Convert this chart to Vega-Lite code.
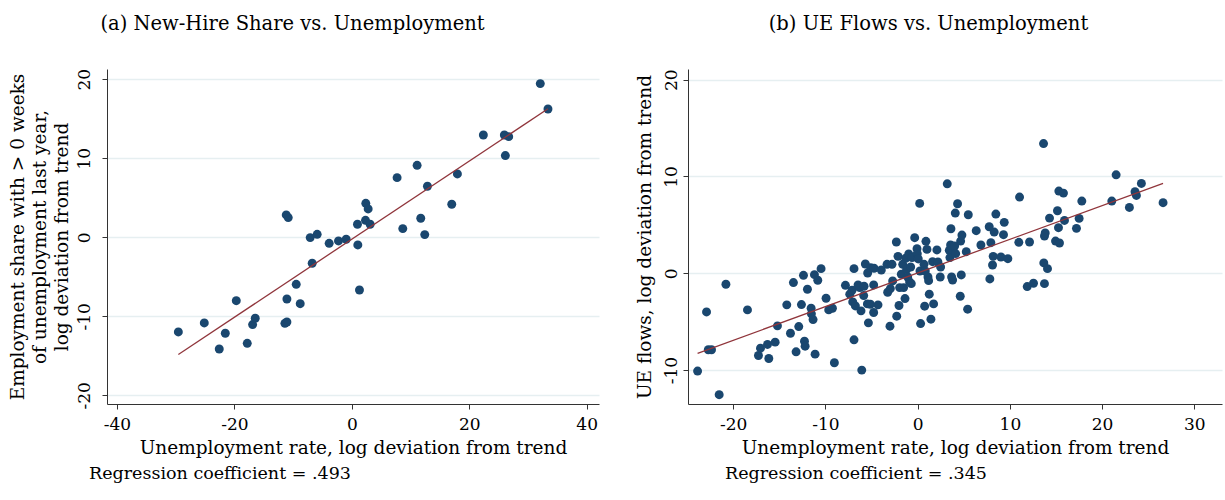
{
  "$schema": "https://vega.github.io/schema/vega-lite/v6.json",
  "background": "white",
  "padding": {"left": 7, "top": 13, "right": 3, "bottom": 5},
  "spacing": 36,
  "config": {
    "view": {"stroke": null},
    "font": "DejaVu Serif",
    "axis": {
      "labelFont": "DejaVu Serif", "titleFont": "DejaVu Serif",
      "labelFontSize": 17, "titleFontSize": 18.5, "titleFontWeight": "normal",
      "labelColor": "#000", "titleColor": "#000",
      "domainColor": "#333", "tickColor": "#333", "tickSize": 5,
      "gridColor": "#e6eff1", "gridWidth": 1.3,
      "labelExpr": "replace(datum.label, '−', '-')"
    },
    "title": {"font": "DejaVu Serif", "fontSize": 19.5, "fontWeight": "normal", "color": "#000"}
  },
  "datasets": {
    "a": [
      {"x": -29.55, "y": -11.98}, {"x": -25.13, "y": -10.84}, {"x": -22.58, "y": -14.14}, {"x": -21.55, "y": -12.15},
      {"x": -19.68, "y": -8.02}, {"x": -17.81, "y": -13.42}, {"x": -16.9, "y": -11.05}, {"x": -16.45, "y": -10.25},
      {"x": -11.4, "y": -10.89}, {"x": -11.06, "y": -10.72}, {"x": -11.06, "y": -7.81}, {"x": -8.79, "y": -8.4},
      {"x": -9.47, "y": -5.95}, {"x": -11.17, "y": 2.83}, {"x": -10.83, "y": 2.49}, {"x": -7.09, "y": -0.04},
      {"x": -5.9, "y": 0.38}, {"x": -6.75, "y": -3.29}, {"x": -3.86, "y": -0.76}, {"x": -2.27, "y": -0.46},
      {"x": -0.96, "y": -0.25}, {"x": 1.02, "y": -0.97}, {"x": 1.3, "y": -6.67}, {"x": 0.96, "y": 1.65},
      {"x": 2.33, "y": 2.15}, {"x": 2.38, "y": 4.3}, {"x": 2.78, "y": 3.59}, {"x": 3.12, "y": 1.65},
      {"x": 7.71, "y": 7.55}, {"x": 8.68, "y": 1.1}, {"x": 11.12, "y": 9.11}, {"x": 11.74, "y": 2.41},
      {"x": 12.88, "y": 6.46}, {"x": 12.42, "y": 0.34}, {"x": 17.02, "y": 4.18}, {"x": 17.98, "y": 8.02},
      {"x": 22.4, "y": 12.95}, {"x": 25.98, "y": 12.95}, {"x": 26.72, "y": 12.74}, {"x": 26.15, "y": 10.34},
      {"x": 32.1, "y": 19.45}, {"x": 33.41, "y": 16.24}
    ],
    "b": [
      {"x": -23.86, "y": -10.1}, {"x": -22.89, "y": -3.99}, {"x": -22.7, "y": -7.9}, {"x": -22.35, "y": -7.9},
      {"x": -21.52, "y": -12.54}, {"x": -20.79, "y": -1.13}, {"x": -18.45, "y": -3.78}, {"x": -17.26, "y": -8.49},
      {"x": -17.04, "y": -7.73}, {"x": -16.28, "y": -7.35}, {"x": -16.14, "y": -8.8}, {"x": -15.45, "y": -7.11},
      {"x": -15.2, "y": -5.43}, {"x": -14.19, "y": -3.26}, {"x": -13.79, "y": -6.19}, {"x": -13.47, "y": -0.96},
      {"x": -13.18, "y": -8.11}, {"x": -12.89, "y": -5.5}, {"x": -12.6, "y": -3.23}, {"x": -12.38, "y": -0.21},
      {"x": -12.27, "y": -7.01}, {"x": -12.2, "y": -7.53}, {"x": -11.95, "y": -1.65}, {"x": -11.55, "y": -3.61},
      {"x": -11.52, "y": -4.19}, {"x": -11.34, "y": -4.78}, {"x": -11.19, "y": -0.14}, {"x": -11.12, "y": -8.35},
      {"x": -10.83, "y": -0.72}, {"x": -10.47, "y": 0.48}, {"x": -9.93, "y": -2.58}, {"x": -9.64, "y": -3.78},
      {"x": -9.24, "y": -3.61}, {"x": -9.03, "y": -9.24}, {"x": -7.83, "y": -1.24}, {"x": -7.36, "y": -2.16},
      {"x": -7.11, "y": -1.75}, {"x": -7.04, "y": -2.96}, {"x": -6.9, "y": 0.48}, {"x": -6.9, "y": -6.87},
      {"x": -6.75, "y": -3.37}, {"x": -6.46, "y": -1.2}, {"x": -6.28, "y": -1.48}, {"x": -6.14, "y": -3.88},
      {"x": -6.06, "y": -10.0}, {"x": -5.85, "y": -2.3}, {"x": -5.81, "y": -1.34}, {"x": -5.67, "y": 0.96},
      {"x": -5.45, "y": -3.16}, {"x": -5.42, "y": 0.03}, {"x": -5.34, "y": -5.12}, {"x": -5.13, "y": -3.2},
      {"x": -5.09, "y": 0.58}, {"x": -4.77, "y": -1.2}, {"x": -4.77, "y": -4.05}, {"x": -4.73, "y": 0.52},
      {"x": -4.3, "y": -3.26}, {"x": -3.94, "y": 0.34}, {"x": -3.32, "y": 0.93}, {"x": -3.25, "y": -1.96},
      {"x": -3.0, "y": -5.46}, {"x": -2.96, "y": -1.58}, {"x": -2.78, "y": 0.93}, {"x": -2.71, "y": -0.79},
      {"x": -2.31, "y": 3.23}, {"x": -2.27, "y": -4.43}, {"x": -2.13, "y": 1.75}, {"x": -2.02, "y": -3.33},
      {"x": -1.95, "y": -1.48}, {"x": -1.77, "y": -0.1}, {"x": -1.62, "y": 0.93}, {"x": -1.52, "y": -1.48},
      {"x": -1.37, "y": -2.61}, {"x": -1.3, "y": 1.55}, {"x": -1.19, "y": 0.41}, {"x": -1.08, "y": -0.38},
      {"x": -0.97, "y": 1.99}, {"x": -0.87, "y": -0.89}, {"x": -0.76, "y": 0.65}, {"x": -0.69, "y": -1.07},
      {"x": -0.61, "y": 1.62}, {"x": -0.32, "y": 3.68}, {"x": -0.07, "y": 2.54}, {"x": -0.04, "y": 2.03},
      {"x": 0.07, "y": 1.48}, {"x": 0.22, "y": 7.22}, {"x": 0.25, "y": 0.24}, {"x": 0.32, "y": -5.19},
      {"x": 0.69, "y": 0.93}, {"x": 0.76, "y": -3.4}, {"x": 0.83, "y": 0.24}, {"x": 0.9, "y": 3.3},
      {"x": 1.01, "y": 2.47}, {"x": 1.12, "y": -0.38}, {"x": 1.19, "y": -0.76}, {"x": 1.26, "y": -2.16},
      {"x": 1.44, "y": -4.74}, {"x": 1.62, "y": 1.2}, {"x": 1.73, "y": -3.16}, {"x": 2.09, "y": 2.41},
      {"x": 2.2, "y": 1.17}, {"x": 2.45, "y": -0.38}, {"x": 2.49, "y": 0.65}, {"x": 3.21, "y": 9.24},
      {"x": 3.43, "y": 2.37}, {"x": 3.5, "y": 1.62}, {"x": 3.57, "y": 2.92}, {"x": 3.61, "y": 4.6},
      {"x": 3.68, "y": -0.38}, {"x": 3.79, "y": -0.69}, {"x": 4.01, "y": 2.82}, {"x": 4.08, "y": 6.22},
      {"x": 4.12, "y": 2.03}, {"x": 4.33, "y": 7.18}, {"x": 4.62, "y": -2.37}, {"x": 4.66, "y": 3.33},
      {"x": 4.73, "y": -0.17}, {"x": 4.8, "y": 3.95}, {"x": 5.27, "y": 2.23}, {"x": 5.42, "y": -3.71},
      {"x": 5.49, "y": 6.05}, {"x": 6.35, "y": 4.4}, {"x": 6.86, "y": 2.92}, {"x": 7.76, "y": 4.81},
      {"x": 7.83, "y": -0.58}, {"x": 7.94, "y": 3.16}, {"x": 8.12, "y": 0.86}, {"x": 8.19, "y": 1.75},
      {"x": 8.3, "y": 4.26}, {"x": 8.48, "y": 6.12}, {"x": 9.03, "y": 1.68}, {"x": 9.31, "y": 3.99},
      {"x": 9.39, "y": 5.26}, {"x": 9.78, "y": 1.51}, {"x": 10.97, "y": 3.2}, {"x": 11.05, "y": 7.87},
      {"x": 11.88, "y": -1.37}, {"x": 12.13, "y": 3.23}, {"x": 12.56, "y": -1.03}, {"x": 13.65, "y": 13.4},
      {"x": 13.68, "y": 1.07}, {"x": 13.75, "y": 3.85}, {"x": 13.75, "y": -1.07}, {"x": 13.83, "y": 4.16},
      {"x": 14.08, "y": 0.48}, {"x": 14.3, "y": 5.7}, {"x": 14.95, "y": 3.33}, {"x": 15.16, "y": 6.46},
      {"x": 15.27, "y": 4.71}, {"x": 15.31, "y": 8.49}, {"x": 15.38, "y": 3.13}, {"x": 15.81, "y": 8.28},
      {"x": 15.92, "y": 5.46}, {"x": 17.22, "y": 4.64}, {"x": 17.51, "y": 5.67}, {"x": 17.8, "y": 7.46},
      {"x": 21.05, "y": 7.46}, {"x": 21.52, "y": 10.17}, {"x": 22.96, "y": 6.8}, {"x": 23.57, "y": 8.42},
      {"x": 23.72, "y": 8.04}, {"x": 24.26, "y": 9.28}, {"x": 26.61, "y": 7.29}
    ]
  },
  "hconcat": [
    {
      "title": {"text": "Regression coefficient = .493", "orient": "bottom", "anchor": "start", "frame": "group", "fontSize": 17.5, "dx": -18, "offset": 8},
      "vconcat": [
        {
          "width": 492,
          "height": 335,
          "title": {"text": "(a) New-Hire Share vs. Unemployment", "anchor": "middle", "frame": "bounds", "dx": -11, "offset": 34},
          "data": {"name": "a"},
          "encoding": {
            "x": {"field": "x", "type": "quantitative", "scale": {"domain": [-41.7, 42.1], "nice": false, "zero": false},
                  "axis": {"values": [-40, -20, 0, 20, 40], "grid": false, "title": "Unemployment rate, log deviation from trend", "labelPadding": 7, "titlePadding": 6}},
            "y": {"field": "y", "type": "quantitative", "scale": {"domain": [-21.1, 21.3], "nice": false, "zero": false},
                  "axis": {"values": [-20, -10, 0, 10, 20], "grid": true, "labelAngle": -90, "labelAlign": "center", "labelBaseline": "bottom", "labelPadding": 9,
                           "title": ["Employment share with > 0 weeks", "of unemployment last year,", "log deviation from trend"], "titleLineHeight": 22, "titlePadding": 4}}
          },
          "layer": [
            {"mark": {"type": "point", "filled": true, "size": 80, "color": "#1a476f", "opacity": 1}},
            {"transform": [{"regression": "y", "on": "x"}], "mark": {"type": "line", "color": "#90353b", "strokeWidth": 1.3}}
          ]
        }
      ]
    },
    {
      "title": {"text": "Regression coefficient = .345", "orient": "bottom", "anchor": "start", "frame": "group", "fontSize": 17.5, "dx": 37, "offset": 8},
      "vconcat": [
        {
          "width": 534,
          "height": 335,
          "title": {"text": "(b) UE Flows vs. Unemployment", "anchor": "middle", "frame": "bounds", "offset": 34},
          "data": {"name": "b"},
          "encoding": {
            "x": {"field": "x", "type": "quantitative", "scale": {"domain": [-24.9, 33.0], "nice": false, "zero": false},
                  "axis": {"values": [-20, -10, 0, 10, 20, 30], "grid": false, "title": "Unemployment rate, log deviation from trend", "labelPadding": 7, "titlePadding": 6}},
            "y": {"field": "y", "type": "quantitative", "scale": {"domain": [-13.5, 21.1], "nice": false, "zero": false},
                  "axis": {"values": [-10, 0, 10, 20], "grid": true, "labelAngle": -90, "labelAlign": "center", "labelBaseline": "bottom", "labelPadding": 3,
                           "title": "UE flows, log deviation from trend", "titlePadding": 8}}
          },
          "layer": [
            {"mark": {"type": "point", "filled": true, "size": 80, "color": "#1a476f", "opacity": 1}},
            {"transform": [{"regression": "y", "on": "x"}], "mark": {"type": "line", "color": "#90353b", "strokeWidth": 1.3}}
          ]
        }
      ]
    }
  ]
}
